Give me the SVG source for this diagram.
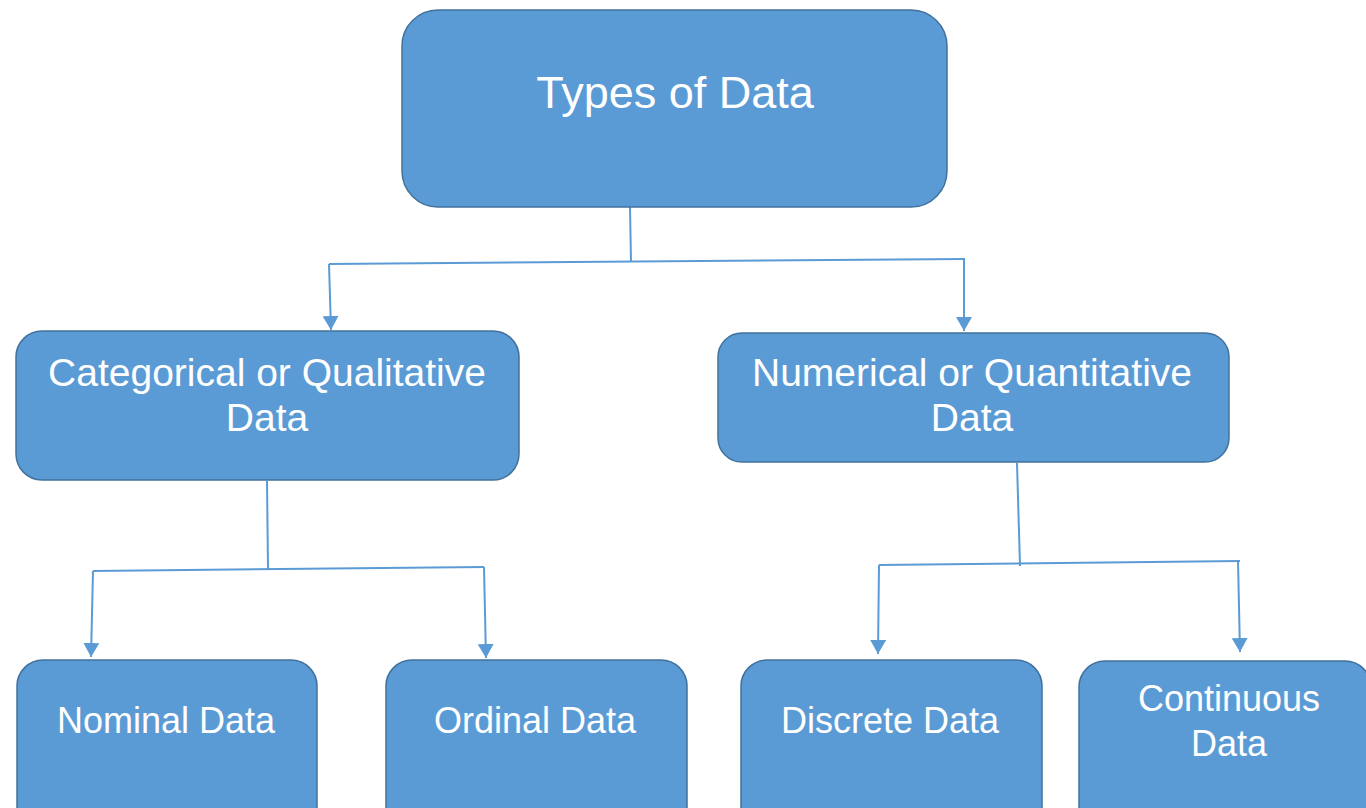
<svg xmlns="http://www.w3.org/2000/svg" width="1366" height="808" viewBox="0 0 1366 808">
<defs>
<marker id="arr" markerUnits="userSpaceOnUse" markerWidth="16" markerHeight="16" viewBox="0 0 16 16" refX="14" refY="8" orient="auto">
<path d="M0,0 L14,8 L0,16 Z" fill="#5B9BD5"/>
</marker>
<style>
.box{fill:#5B9BD5;stroke:#41719C;stroke-width:1.5}
.lbl{font-family:"Liberation Sans",Arial,sans-serif;fill:#FFFFFF;text-anchor:middle}
.con{fill:none;stroke:#5B9BD5;stroke-width:2}
</style>
</defs>
<rect width="1366" height="808" fill="#FFFFFF"/>
<g id="connectors">
<path class="con" d="M630,207 L631,262"/>
<path class="con" d="M329,264 L965,259"/>
<path class="con" d="M329,264 L331,330" marker-end="url(#arr)"/>
<path class="con" d="M964,259 L964,331" marker-end="url(#arr)"/>
<path class="con" d="M267,481 L268,569"/>
<path class="con" d="M93,571 L484,567"/>
<path class="con" d="M93,571 L91,657" marker-end="url(#arr)"/>
<path class="con" d="M484,567 L486,658" marker-end="url(#arr)"/>
<path class="con" d="M1017,463 L1020,566"/>
<path class="con" d="M879,565 L1240,561"/>
<path class="con" d="M879,565 L878,654" marker-end="url(#arr)"/>
<path class="con" d="M1238,561 L1240,652" marker-end="url(#arr)"/>
</g>
<g id="types">
<rect class="box" x="402" y="10" width="545" height="197" rx="36"/>
<text class="lbl" x="675" y="108" font-size="45">Types of Data</text>
</g>
<g id="categorical">
<rect class="box" x="16" y="331" width="503" height="149" rx="26"/>
<text class="lbl" x="267" y="386" font-size="39">Categorical or Qualitative</text>
<text class="lbl" x="267" y="431" font-size="39">Data</text>
</g>
<g id="numerical">
<rect class="box" x="718" y="333" width="511" height="129" rx="24"/>
<text class="lbl" x="972" y="386" font-size="39">Numerical or Quantitative</text>
<text class="lbl" x="972" y="431" font-size="39">Data</text>
</g>
<g id="nominal">
<rect class="box" x="17" y="660" width="300" height="180" rx="26"/>
<text class="lbl" x="166" y="733" font-size="36">Nominal Data</text>
</g>
<g id="ordinal">
<rect class="box" x="386" y="660" width="301" height="180" rx="26"/>
<text class="lbl" x="535" y="733" font-size="36">Ordinal Data</text>
</g>
<g id="discrete">
<rect class="box" x="741" y="660" width="301" height="180" rx="26"/>
<text class="lbl" x="890" y="733" font-size="36">Discrete Data</text>
</g>
<g id="continuous">
<rect class="box" x="1079" y="661" width="292" height="180" rx="26"/>
<text class="lbl" x="1229" y="711" font-size="36">Continuous</text>
<text class="lbl" x="1229" y="756" font-size="36">Data</text>
</g>
</svg>
